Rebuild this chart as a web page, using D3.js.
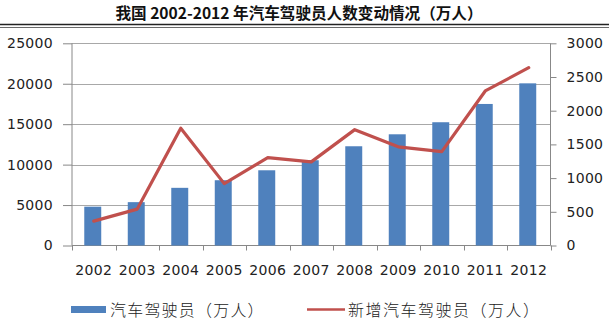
<!DOCTYPE html>
<html><head><meta charset="utf-8">
<script src="https://cdn.jsdelivr.net/npm/d3@7"></script>
<style>
html,body{margin:0;padding:0;background:#fff;}
svg{display:block;}
</style></head>
<body>
<svg id="c" width="609" height="325"></svg>
<script>
const years = ["2002","2003","2004","2005","2006","2007","2008","2009","2010","2011","2012"];
const drivers = [4800, 5360, 7130, 8070, 9300, 10540, 12270, 13750, 15240, 17500, 20050];
const newDrivers = [362, 540, 1740, 918, 1304, 1241, 1719, 1464, 1393, 2293, 2638];
const leftTicks = [0, 5000, 10000, 15000, 20000, 25000];
const rightTicks = [0, 500, 1000, 1500, 2000, 2500, 3000];
const title = "我国 2002-2012 年汽车驾驶员人数变动情况（万人）";
const legendLabels = ["汽车驾驶员（万人）", "新增汽车驾驶员（万人）"];

const svg = d3.select("#c");
const L = 72, R = 550.5, T = 43.3, B = 245.5;
const x = d3.scaleBand().domain(years).range([L, R]).paddingInner(0.61).paddingOuter(0.305);
const yL = d3.scaleLinear().domain([0, 25000]).range([B, T]);
const yR = d3.scaleLinear().domain([0, 3000]).range([B, T]);
const numFont = "'DejaVu Sans', Verdana, sans-serif";
const cjk = "'Noto Sans CJK SC', sans-serif";

// title
svg.append("text").attr("x", 299).attr("y", 19).attr("text-anchor", "middle")
  .attr("font-family", cjk).attr("font-size", 15.6).attr("font-weight", 600)
  .attr("fill", "#111").text(title);
svg.append("line").attr("x1", 0).attr("x2", 609).attr("y1", 24.5).attr("y2", 24.5)
  .attr("stroke", "#222").attr("stroke-width", 1.4);
svg.append("line").attr("x1", 0).attr("x2", 609).attr("y1", 27.5).attr("y2", 27.5)
  .attr("stroke", "#444").attr("stroke-width", 0.8);

// gridlines
svg.append("g").selectAll("line").data(leftTicks.slice(1)).join("line")
  .attr("x1", L).attr("x2", R)
  .attr("y1", d => Math.round(yL(d)) + 0.5).attr("y2", d => Math.round(yL(d)) + 0.5)
  .attr("stroke", "#a8a8a8").attr("stroke-width", 1);

// left axis
const gL = svg.append("g").attr("transform", `translate(${L},0)`)
  .call(d3.axisLeft(yL).tickValues(leftTicks).tickSize(9).tickPadding(10).tickFormat(d3.format("d")));
// right axis
const gR = svg.append("g").attr("transform", `translate(${R},0)`)
  .call(d3.axisRight(yR).tickValues(rightTicks).tickSize(6).tickPadding(10).tickFormat(d3.format("d")));
// bottom axis
const xTickPos = years.map((d, i) => L + i * x.step()).concat([R]);
const gB = svg.append("g");
gB.append("line").attr("x1", L).attr("x2", R).attr("y1", B).attr("y2", B).attr("stroke", "#888");
gB.selectAll("line.t").data(xTickPos).join("line").attr("class", "t")
  .attr("x1", d => Math.round(d) + 0.5).attr("x2", d => Math.round(d) + 0.5)
  .attr("y1", B).attr("y2", B + 5).attr("stroke", "#888");
gB.selectAll("text").data(years).join("text")
  .attr("x", d => x(d) + x.bandwidth() / 2).attr("y", 275)
  .attr("text-anchor", "middle").attr("font-family", numFont).attr("font-size", 14)
  .attr("letter-spacing", 0.3).attr("fill", "#222").text(d => d);

[gL, gR].forEach(g => {
  g.select(".domain").attr("stroke", "#888");
  g.selectAll(".tick line").attr("stroke", "#888");
  g.selectAll(".tick text").attr("font-family", numFont).attr("font-size", 14)
    .attr("letter-spacing", 0.3).attr("fill", "#222");
});
gL.select(".domain").attr("d", `M0,${T}V${B}`);
gR.select(".domain").attr("d", `M0,${T}V${B}`);

// bars
svg.append("g").selectAll("rect").data(drivers).join("rect")
  .attr("x", (d, i) => x(years[i]) - 1).attr("width", x.bandwidth())
  .attr("y", d => yL(d)).attr("height", d => B - yL(d))
  .attr("fill", "#4F81BD");

// line
const line = d3.line().x((d, i) => x(years[i]) + x.bandwidth() / 2).y(d => yR(d));
svg.append("path").datum(newDrivers).attr("d", line)
  .attr("fill", "none").attr("stroke", "#C0504D").attr("stroke-width", 3.2)
  .attr("stroke-linejoin", "round").attr("stroke-linecap", "round");

// legend
svg.append("rect").attr("x", 71).attr("y", 306).attr("width", 35).attr("height", 7).attr("fill", "#4F81BD");
svg.append("text").attr("x", 110).attr("y", 315.5).attr("font-family", cjk).attr("font-size", 16)
  .attr("letter-spacing", 1.2).attr("fill", "#222").attr("font-weight", 300).text(legendLabels[0]);
svg.append("line").attr("x1", 307).attr("x2", 345).attr("y1", 309.5).attr("y2", 309.5)
  .attr("stroke", "#C0504D").attr("stroke-width", 2.5);
svg.append("text").attr("x", 348).attr("y", 315.5).attr("font-family", cjk).attr("font-size", 16)
  .attr("letter-spacing", 1.5).attr("fill", "#222").attr("font-weight", 300).text(legendLabels[1]);
</script>
</body></html>
